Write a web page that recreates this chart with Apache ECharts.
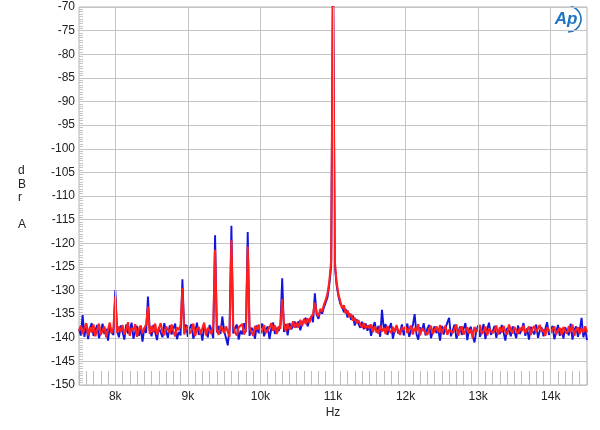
<!DOCTYPE html>
<html>
<head>
<meta charset="utf-8">
<script src="https://cdn.jsdelivr.net/npm/echarts@6/dist/echarts.min.js"></script>
<style>
html,body{margin:0;padding:0;background:#fff;}
#chart{width:600px;height:430px;}
</style>
</head>
<body>
<div id="chart"></div>
<script>
// Frequency grid (Hz): 7500 .. 14500 in 25 Hz bins
const FREQ_START = 7500;
const FREQ_STEP = 25;
const X_TICKS = [8000, 9000, 10000, 11000, 12000, 13000, 14000];
const Y_TICKS = [-150, -145, -140, -135, -130, -125, -120, -115, -110, -105, -100, -95, -90, -85, -80, -75, -70];

// Blue trace (dBr A), one row per 500 Hz
const blueValues = [
  -138.2,-139.5,-135.2,-139.8,-137.1,-140.3,-138.0,-136.9,-139.6,-138.4,-137.3,-140.1,-138.8,-137.0,-139.2,-138.1,-140.6,-137.6,-138.9,-139.4,
  -129.9,-138.6,-139.9,-137.4,-138.8,-140.4,-137.2,-139.1,-138.3,-136.8,-140.2,-138.7,-137.5,-139.6,-138.0,-140.8,-137.9,-139.0,-131.3,-138.5,
  -139.7,-137.3,-138.9,-140.5,-137.8,-138.2,-139.9,-136.9,-138.6,-140.0,-137.4,-139.3,-138.1,-137.0,-140.3,-138.8,-139.5,-127.6,-138.4,-137.2,
  -139.8,-138.0,-137.1,-140.2,-138.9,-136.8,-139.4,-138.3,-140.6,-137.6,-138.7,-139.9,-137.3,-138.5,-140.1,-118.3,-138.9,-137.5,-139.2,-135.5,
  -138.6,-140.0,-141.6,-137.8,-116.3,-139.1,-138.0,-137.2,-140.4,-138.5,-139.3,-136.9,-138.8,-117.6,-139.6,-137.9,-138.4,-140.2,-137.4,-139.0,
  -138.1,-137.0,-139.7,-138.4,-137.6,-140.3,-138.0,-136.8,-139.2,-137.9,-138.6,-137.3,-127.4,-138.8,-137.1,-139.5,-136.9,-138.2,-137.5,-136.6,
  -137.8,-136.5,-138.4,-136.9,-137.2,-135.8,-137.6,-136.3,-135.4,-136.7,-130.6,-135.1,-136.0,-134.2,-134.9,-133.6,-132.5,-131.4,-128.6,-124.8,
  -60.0,-124.6,-128.9,-131.2,-132.8,-133.4,-134.6,-133.9,-135.7,-134.8,-136.2,-135.3,-137.4,-136.1,-135.8,-137.9,-136.6,-138.2,-137.0,-138.5,
  -137.3,-139.6,-137.8,-136.7,-138.9,-137.5,-139.8,-134.1,-138.2,-137.1,-139.4,-138.0,-136.9,-140.2,-138.4,-137.7,-139.1,-138.6,-137.2,-139.5,
  -138.3,-137.0,-139.8,-138.5,-137.4,-135.0,-139.2,-140.4,-137.8,-138.6,-136.9,-139.5,-138.1,-137.3,-140.1,-138.7,-137.6,-139.0,-138.2,-140.6,
  -137.5,-139.3,-138.0,-136.8,-135.8,-139.7,-138.4,-137.2,-140.2,-138.9,-137.6,-139.4,-138.1,-136.9,-140.5,-138.3,-137.7,-139.6,-141.0,-138.5,
  -137.4,-139.8,-138.6,-137.1,-140.3,-138.2,-136.8,-139.4,-138.7,-137.5,-140.0,-138.4,-139.2,-137.3,-138.9,-140.6,-137.9,-138.5,-139.7,-137.6,
  -138.8,-140.1,-137.4,-139.2,-138.3,-136.9,-139.6,-138.0,-140.4,-137.7,-138.6,-139.3,-137.2,-140.0,-138.5,-137.8,-139.7,-138.2,-136.7,-139.4,
  -138.6,-137.5,-140.3,-138.9,-137.3,-139.6,-138.1,-140.2,-137.8,-138.7,-139.5,-137.0,-140.4,-138.3,-137.6,-139.8,-138.4,-135.8,-139.9,-138.2,
  -140.5
];

// Red trace (dBr A), one row per 500 Hz
const redValues = [
  -138.6,-137.4,-139.2,-138.1,-136.9,-139.5,-137.8,-138.9,-137.2,-139.7,-138.3,-137.0,-139.4,-138.5,-137.6,-139.9,-138.2,-136.8,-139.1,-137.9,
  -131.3,-139.0,-137.6,-138.8,-137.3,-139.3,-138.4,-136.7,-139.6,-137.9,-138.5,-137.1,-139.8,-138.2,-137.4,-139.1,-138.0,-137.2,-133.4,-139.2,
  -137.5,-138.9,-137.0,-139.4,-138.1,-136.9,-138.7,-139.5,-137.6,-138.3,-139.0,-137.2,-138.6,-139.7,-137.8,-138.4,-137.3,-129.5,-139.3,-138.0,
  -137.4,-139.1,-138.5,-137.0,-139.6,-138.2,-137.7,-139.3,-138.0,-136.8,-139.5,-137.9,-138.6,-139.2,-137.3,-121.4,-138.4,-139.4,-137.5,-138.1,
  -139.0,-137.6,-138.7,-139.8,-119.3,-137.4,-138.9,-139.5,-137.8,-138.2,-137.1,-139.3,-138.5,-120.7,-137.9,-138.8,-139.6,-137.5,-138.3,-137.2,
  -139.1,-138.4,-137.3,-139.0,-138.6,-137.8,-136.9,-138.5,-137.4,-139.2,-137.6,-138.1,-131.8,-137.3,-138.6,-137.0,-138.2,-137.7,-136.5,-137.9,
  -136.8,-137.9,-136.2,-137.5,-136.0,-137.1,-135.9,-136.8,-135.6,-135.0,-132.6,-134.8,-135.5,-133.9,-134.4,-133.0,-132.0,-130.6,-128.0,-123.8,
  -62.0,-123.9,-128.3,-130.8,-132.3,-133.8,-133.1,-134.9,-134.2,-135.6,-135.0,-136.4,-135.8,-136.9,-136.3,-137.2,-137.8,-136.9,-138.1,-137.4,
  -138.0,-137.2,-138.8,-137.6,-138.5,-139.1,-137.4,-138.7,-137.9,-139.2,-137.5,-138.4,-139.0,-137.7,-138.9,-137.3,-138.6,-139.4,-137.8,-138.3,
  -137.6,-139.0,-138.2,-137.4,-139.3,-137.9,-138.6,-137.1,-139.5,-138.0,-137.7,-138.9,-139.4,-138.1,-137.5,-139.2,-138.4,-137.6,-138.8,-137.3,
  -139.1,-138.0,-137.5,-139.4,-138.3,-137.9,-139.0,-138.6,-137.2,-139.6,-138.1,-137.6,-139.3,-138.5,-137.8,-139.1,-138.2,-140.1,-137.7,-138.8,
  -138.4,-137.3,-139.2,-138.7,-137.6,-139.5,-138.1,-137.9,-139.0,-138.5,-137.4,-139.3,-137.8,-138.9,-137.5,-138.6,-139.4,-137.2,-138.3,-139.1,
  -137.7,-138.5,-139.2,-137.9,-138.6,-137.4,-139.0,-138.3,-137.6,-139.4,-138.0,-137.5,-138.8,-139.1,-137.3,-138.7,-138.2,-139.6,-137.8,-138.4,
  -139.0,-138.2,-137.6,-139.3,-138.5,-137.9,-139.4,-137.7,-138.6,-139.1,-137.5,-138.8,-137.2,-139.6,-138.3,-137.8,-139.2,-138.0,-138.9,-137.6,
  -138.9
];

const X_MIN = 7500, X_MAX = 14500, X_MINOR = 100;
const Y_MIN = -150, Y_MAX = -70;

function pairs(vals) {
  return vals.map((v, i) => [FREQ_START + i * FREQ_STEP, v]);
}

const FONT = '"Liberation Sans", Arial, sans-serif';
const chart = echarts.init(document.getElementById('chart'), null, {renderer: 'canvas'});

chart.setOption({
  animation: false,
  backgroundColor: '#ffffff',
  grid: {left: 79, right: 13, top: 7, bottom: 45, show: true, borderColor: '#b4b4b4', borderWidth: 1, backgroundColor: 'transparent'},
  xAxis: {
    type: 'value', min: X_MIN, max: X_MAX, interval: X_MINOR,
    axisLine: {show: false},
    axisTick: {show: true, inside: true, length: 14, lineStyle: {color: '#bdbdbd', width: 1}},
    splitLine: {show: false},
    axisLabel: {
      show: true, margin: 6, color: '#222', fontFamily: FONT, fontSize: 12,
      formatter: v => (X_TICKS.indexOf(v) >= 0 ? (v / 1000) + 'k' : '')
    }
  },
  yAxis: {
    type: 'value', min: Y_MIN, max: Y_MAX, interval: 5,
    axisLine: {show: false},
    axisTick: {show: true, inside: true, length: 4, lineStyle: {color: '#c4c4c4'}},
    minorTick: {show: true, splitNumber: 10, length: 4, lineStyle: {color: '#c4c4c4'}},
    splitLine: {show: true, lineStyle: {color: '#c4c4c4', width: 1}},
    axisLabel: {margin: 4, color: '#222', fontFamily: FONT, fontSize: 12,
      formatter: v => (Y_TICKS.indexOf(v) >= 0 ? String(v) : '')}
  },
  series: [
    {
      type: 'line', data: [], silent: true,
      markLine: {
        silent: true, symbol: 'none', animation: false,
        label: {show: false},
        lineStyle: {color: '#c4c4c4', width: 1, type: 'solid'},
        data: X_TICKS.map(v => ({xAxis: v}))
      }
    },
    {
      name: 'Blue', type: 'line', data: pairs(blueValues), showSymbol: false, clip: true,
      lineStyle: {color: '#1414e0', width: 1.9}, itemStyle: {color: '#1414e0'}, z: 3
    },
    {
      name: 'Red', type: 'line', data: pairs(redValues), showSymbol: false, clip: true,
      lineStyle: {color: '#ff1f1f', width: 2.1}, itemStyle: {color: '#ff1f1f'}, z: 4
    }
  ],
  graphic: [
    {type: 'text', left: 18, top: 164, style: {text: 'd\nB\nr\n\nA', fontFamily: FONT, fontSize: 12, lineHeight: 13.5, fill: '#222', align: 'center'}},
    {type: 'text', x: 333, y: 413, style: {text: 'Hz', fontFamily: FONT, fontSize: 12, fill: '#222', align: 'center', verticalAlign: 'middle'}},
    {type: 'text', x: 566, y: 19, style: {text: 'Ap', fontFamily: FONT, fontSize: 17, fontStyle: 'italic', fontWeight: 'bold', fill: '#1e73be', align: 'center', verticalAlign: 'middle'}},
    {type: 'arc', shape: {cx: 568, cy: 19, r: 13, startAngle: -Math.PI * 0.42, endAngle: Math.PI * 0.5}, style: {stroke: '#1e73be', lineWidth: 1.6, fill: null}}
  ]
});
</script>
</body>
</html>
